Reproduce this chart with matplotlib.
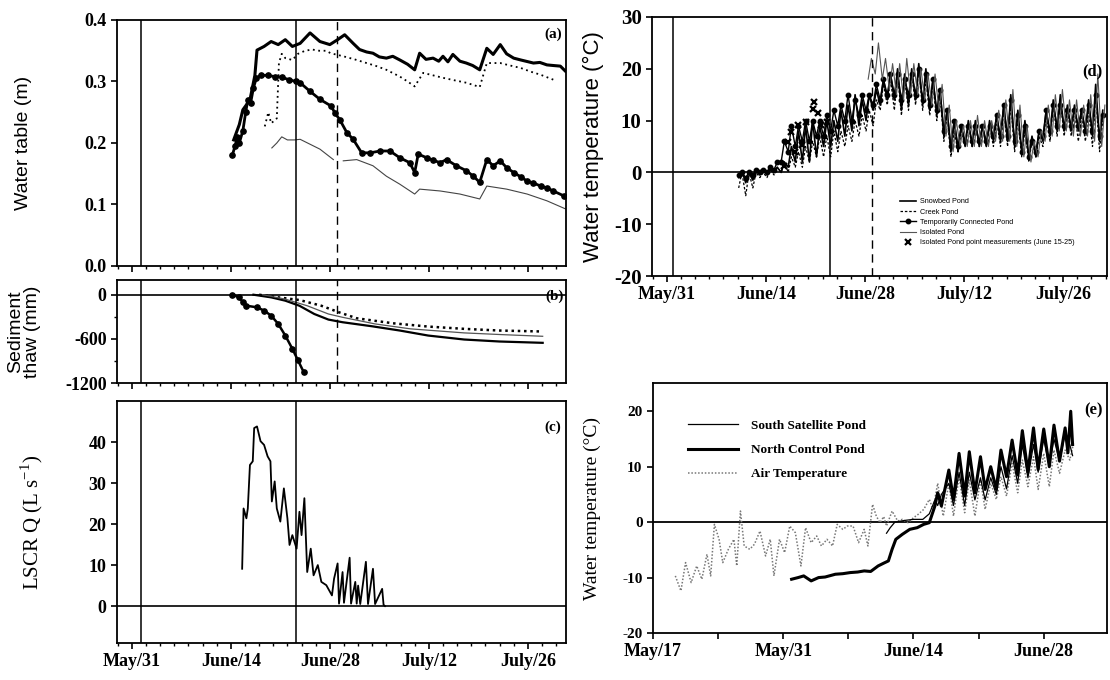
import numpy as np
import matplotlib
matplotlib.use('Agg')
import matplotlib.pyplot as plt
from matplotlib.ticker import MultipleLocator, FixedLocator

plt.rcParams['axes.unicode_minus'] = False

# ---------------- data (x = days after May 31) ----------------
# Panel (a) water table (m)
snow_a_days = [14.4, 15.2, 15.7, 16.7, 17.4, 17.7, 18.7, 19.7, 20.7, 21.7, 22.7, 23.8, 25.2, 26.6, 28.0,
               29.1, 30.1, 31.3, 32.2, 33.2, 34.1, 35.0, 36.0, 36.9, 37.9, 39.0, 40.0, 40.7, 41.6, 42.6,
               43.4, 44.0, 44.7, 45.4, 46.4, 47.3, 48.2, 49.2, 50.2, 51.1, 52.1, 53.0, 54.0, 55.0, 56.8,
               57.7, 58.7, 59.6, 60.6, 61.3]
snow_a_vals = [0.205, 0.23, 0.254, 0.27, 0.31, 0.351, 0.357, 0.365, 0.36, 0.368, 0.357, 0.362, 0.379, 0.365, 0.36,
               0.368, 0.376, 0.362, 0.352, 0.348, 0.346, 0.34, 0.338, 0.341, 0.335, 0.328, 0.319, 0.346, 0.336, 0.338,
               0.333, 0.341, 0.332, 0.344, 0.333, 0.33, 0.326, 0.319, 0.354, 0.344, 0.36, 0.345, 0.338, 0.335, 0.33,
               0.331, 0.327, 0.326, 0.325, 0.317]
creek_a_days = [18.8, 19.3, 19.7, 20.5, 20.8, 21.2, 21.7, 22.7, 23.5, 24.5, 25.5, 26.5, 27.5, 28.1, 29.9,
                31.5, 33.2, 34.6, 36.0, 37.9, 39.0, 40.0, 41.2, 42.6, 44.0, 45.6, 47.3, 49.2, 50.2, 52.1,
                53.5, 55.0, 56.4, 57.8, 59.6]
creek_a_vals = [0.227, 0.25, 0.232, 0.24, 0.33, 0.345, 0.338, 0.335, 0.345, 0.35, 0.352, 0.35, 0.35, 0.346, 0.341,
                0.336, 0.33, 0.325, 0.319, 0.308, 0.3, 0.292, 0.314, 0.31, 0.306, 0.302, 0.298, 0.291, 0.33, 0.33,
                0.326, 0.322, 0.316, 0.311, 0.303]
tc_a_days = [14.2, 14.6, 14.9, 15.2, 15.7, 16.1, 16.4, 16.8, 17.2, 17.6, 18.2, 19.2, 20.2, 21.2, 22.2,
             23.2, 23.8, 25.2, 26.6, 28.2, 28.7, 29.4, 30.4, 31.3, 32.5, 33.7, 35.1, 36.5, 37.9, 39.3,
             40.0, 40.5, 41.7, 42.6, 43.6, 44.5, 45.9, 47.3, 48.3, 49.2, 50.2, 51.1, 52.1, 53.0, 54.0,
             55.0, 55.9, 56.8, 57.8, 58.7, 59.6, 61.1]
tc_a_vals = [0.18, 0.195, 0.21, 0.2, 0.22, 0.25, 0.27, 0.265, 0.29, 0.305, 0.31, 0.31, 0.308, 0.307, 0.303,
             0.3, 0.298, 0.284, 0.271, 0.26, 0.249, 0.238, 0.217, 0.206, 0.184, 0.184, 0.187, 0.187, 0.176, 0.168,
             0.152, 0.182, 0.176, 0.172, 0.168, 0.173, 0.163, 0.155, 0.146, 0.136, 0.173, 0.163, 0.171, 0.16, 0.152,
             0.145, 0.138, 0.135, 0.13, 0.127, 0.122, 0.114]
iso_a_days = [19.8, 20.5, 21.2, 22.0, 23.0, 23.8, 25.2, 26.6, 28.5, 28.9, 29.9, 31.8, 34.1, 36.0, 37.9,
              40.0, 40.7, 43.6, 46.4, 49.2, 50.2, 53.0, 55.9, 58.7, 61.5]
iso_a_vals = [0.192, 0.2, 0.21, 0.205, 0.205, 0.206, 0.198, 0.19, 0.173, np.nan, 0.171, 0.173, 0.163, 0.146, 0.133,
              0.117, 0.125, 0.122, 0.117, 0.109, 0.13, 0.125, 0.117, 0.106, 0.092]

# Panel (b) sediment thaw (mm)
tc_b_days = [14.2, 15.2, 15.7, 16.2, 17.7, 18.7, 19.7, 20.7, 21.7, 22.7, 23.5, 24.3]
tc_b_vals = [0, -36, -104, -150, -171, -216, -284, -397, -555, -735, -893, -1051]
snow_b_days = [17.2, 19.7, 21.7, 23.7, 25.8, 27.8, 29.8, 33.9, 37.9, 41.9, 47.0, 52.0, 58.1]
snow_b_vals = [0, -36, -81, -150, -262, -338, -374, -428, -487, -555, -609, -636, -654]
creek_b_days = [18.0, 20.7, 23.7, 26.8, 29.3, 31.8, 36.9, 41.9, 47.0, 52.0, 58.1]
creek_b_vals = [0, -36, -72, -150, -239, -320, -388, -433, -464, -487, -500]
iso_b_days = [18.5, 21.7, 24.8, 27.8, 29.8, 34.4, 39.4, 47.0, 52.0, 58.1]
iso_b_vals = [0, -60, -150, -262, -307, -397, -464, -519, -541, -565]

# Panel (c) LSCR discharge (L/s)
q_days = [15.6, 15.7, 15.8, 16.2, 16.4, 16.7, 17.1, 17.3, 17.7, 18.2, 18.7, 19.2, 19.6, 19.8, 20.2, 20.5,
          21.0, 21.5, 22.0, 22.3, 22.7, 23.3, 23.7, 24.0, 24.4, 24.8, 25.3, 25.7, 26.3, 26.8, 27.5, 28.3,
          28.6, 29.1, 29.3, 29.8, 30.0, 30.8, 31.0, 31.6, 31.8, 32.0, 32.3, 33.1, 33.4, 34.1, 34.4, 35.4,
          35.6, 35.8]
q_vals = [9.1, 16.5, 23.8, 21.4, 23.8, 34.4, 35.3, 43.4, 43.8, 40.2, 39.3, 36.5, 35.3, 25.5, 30.4, 23.8,
          20.6, 28.7, 21.4, 14.9, 17.3, 14.0, 23.0, 17.3, 26.3, 8.3, 14.0, 7.5, 10.0, 5.9, 5.1, 2.6,
          6.7, 10.4, 0.6, 8.3, 0.8, 11.8, 0.6, 5.9, 0.6, 5.0, 0.5, 10.8, 0.5, 9.1, 0.5, 4.2,
          0.3, 0.0]

# Panel (d) water temperature: daily minima / maxima, first day given
snow_d_start = 10
snow_d_min = [-1, -2, -1.5, -0.5, -0.5, 0, 0, 1, 2, 2, 2, 3, 5, 5, 6, 7, 8, 9, 10, 12, 13, 14, 14, 12, 13, 14,
              13, 12, 11, 7, 4, 4, 5, 5, 5, 5, 6, 6, 6, 5, 4, 3, 3, 6, 7, 8, 8, 8, 8, 8, 7, 6]
snow_d_max = [0.3, 0, 0.3, 0.5, 0.5, 1, 2, 5, 8, 9, 10, 9, 10, 10, 12, 13, 15, 14, 15, 16, 18, 19, 20, 19, 20, 21,
              20, 18, 16, 12, 10, 9, 10, 10, 9, 10, 11, 13, 15, 12, 10, 7, 8, 12, 14, 15, 13, 13, 12, 14, 17, 12]
creek_d_start = 10
creek_d_min = [-3, -4.5, -3, -1, -1, -0.5, 0, 0, 1, 1, 2, 3, 3, 3, 4, 5, 6, 7, 8, 9, 12, 13, 12, 11, 12, 13,
               12, 11, 10, 6, 3, 4, 5, 5, 5, 5, 5, 5, 5, 4, 3, 2, 3, 5, 6, 7, 7, 7, 6, 6, 5, 4]
creek_d_max = [0, 0, 0, 0, 0.5, 1, 2, 3, 4, 5, 6, 7, 7, 8, 8, 9, 10, 11, 12, 14, 17, 18, 19, 18, 19, 20,
               18, 17, 15, 11, 8, 8, 9, 9, 9, 9, 10, 12, 13, 10, 8, 6, 7, 11, 13, 14, 12, 12, 11, 12, 15, 10]
tc_d_start = 10
tc_d_min = [-0.5, -1, -0.5, 0, 0, 0.5, 2, 4, 5, 6, 6, 7, 7, 8, 9, 10, 10, 11, 12, 13, 14, 15, 15, 14, 15, 15,
            14, 13, 12, 8, 5, 5, 6, 6, 6, 6, 7, 7, 7, 6, 4, 3, 4, 7, 8, 9, 9, 9, 9, 8, 8, 7]
tc_d_max = [0, 0, 0.5, 0.5, 1, 2, 6, 9, 9, 10, 10, 10, 11, 12, 13, 15, 14, 15, 15, 17, 18, 19, 19, 18, 19, 20,
            19, 18, 16, 12, 10, 9, 9, 9, 9, 9, 11, 13, 14, 11, 9, 6, 8, 12, 13, 13, 12, 12, 12, 13, 15, 11]
iso_d_start = 28.3
iso_d_min = [18, 19, 18, 16, 15, 14, 15, 15, 14, 13, 12, 7, 4, 5, 5, 5, 5, 5, 6, 6, 6, 5, 3, 2, 3, 6, 7, 8,
             8, 7, 7, 7, 6, 5]
iso_d_max = [22, 25, 22, 21, 21, 22, 21, 20, 19, 19, 17, 13, 10, 9, 10, 11, 10, 10, 12, 14, 16, 13, 9, 6, 8,
             13, 15, 16, 14, 14, 13, 15, 19, 13]
pts_days = [16.6, 17.1, 17.6, 18.1, 18.6, 19.1, 19.6, 20.6, 20.8, 21.3, 21.8, 22.6]
pts_vals = [1.3, 5.8, 7.8, 3.9, 9.1, 5.2, 9.7, 12.3, 13.6, 11.4, 9.1, 9.7]

# Panel (e)
air_days = [-11.6, -11.0, -10.5, -9.9, -9.3, -8.75, -8.2, -7.8, -7.4, -6.9, -6.5, -5.9, -5.3, -5.0, -4.6, -4.2,
            -3.6, -3.1, -2.5, -1.9, -1.4, -1.0, -0.4, 0.15, 0.7, 1.3, 1.9, 2.4, 3.0, 3.6, 4.1, 4.7, 5.3, 5.8,
            6.4, 6.9, 7.5, 8.1, 8.7, 9.1, 9.6, 10.0, 10.4, 10.8, 11.1, 11.7, 12.3, 12.8, 13.4, 14.0, 14.5,
            15.1, 15.7, 16.1, 16.6, 17.2, 17.8, 18.3, 18.9, 19.5, 20.0, 20.6, 21.2, 21.7, 22.3, 22.9, 23.4,
            24.0, 24.6, 25.2, 25.7, 26.3, 26.9, 27.4, 28.0, 28.6, 29.1, 29.7, 30.3, 30.8, 31.2]
air_vals = [-9.7, -12.4, -7.3, -10.9, -7.9, -10.3, -5.8, -9.7, -0.4, -3.1, -7.3, -4.9, -3.1, -7.9, 2.0, -4.3,
            -4.9, -4.0, -1.6, -6.1, -3.1, -9.7, -3.1, -5.5, -0.7, -1.9, -7.9, -1.0, -3.7, -2.5, -4.3, -3.1, -4.3,
            -0.4, -1.3, -0.7, -0.7, -3.7, -1.3, -4.3, 3.2, 1.1, -0.1, 1.0, -0.7, 2.0, 0.2, 0.5, -0.1, 0.8, 1.4,
            2.3, 4.1, 2.3, 7.0, 1.1, 7.0, 1.1, 8.2, 1.7, 7.6, 1.1, 7.6, 2.3, 7.0, 4.1, 8.2, 4.7, 10.6, 5.3,
            11.2, 6.4, 11.8, 5.9, 12.4, 6.4, 13.0, 8.8, 13.0, 11.2, 14.2]
nc_days = [0.9, 1.6, 2.2, 3.0, 3.8, 4.5, 5.6, 6.4, 7.2, 8.0, 8.7, 9.4, 10.2, 10.8, 11.3, 11.7, 12.1, 12.8,
           13.6, 14.4, 15.1, 15.7, 16.3, 16.6, 17.0, 17.8, 18.3, 18.9, 19.5, 20.0, 20.6, 21.2, 21.7, 22.3,
           22.9, 23.4, 24.0, 24.6, 25.2, 25.7, 26.3, 26.9, 27.4, 28.0, 28.6, 29.1, 29.7, 30.3, 30.6, 30.9, 31.1]
nc_vals = [-10.3, -10.0, -9.7, -10.6, -10.0, -9.9, -9.4, -9.3, -9.1, -9.0, -8.8, -8.9, -7.9, -7.4, -7.0, -4.9,
           -3.1, -2.2, -1.3, -1.0, -0.4, -0.1, 2.9, 5.3, 2.9, 9.4, 4.1, 12.4, 4.7, 12.7, 5.3, 11.8, 5.9, 10.0,
           5.9, 13.0, 8.2, 14.8, 8.5, 16.5, 9.0, 17.0, 9.5, 16.8, 10.0, 17.5, 11.0, 17.0, 12.5, 20.0, 14.0]
ss_days = [11.1, 11.5, 12.0, 13.0, 14.0, 15.0, 15.7, 16.3, 16.6, 17.0, 17.8, 18.3, 18.9, 19.5, 20.0, 20.6,
           21.2, 21.7, 22.3, 22.9, 23.4, 24.0, 24.6, 25.2, 25.7, 26.3, 26.9, 27.4, 28.0, 28.6, 29.1, 29.7,
           30.3, 30.8, 31.1]
ss_vals = [-2.0, -1.0, 0.0, 0.3, 0.5, 0.5, 1.5, 4.0, 3.0, 5.0, 7.0, 3.0, 9.0, 3.0, 9.0, 4.0, 8.0, 4.0, 8.0,
           5.0, 10.0, 6.0, 12.0, 7.0, 14.0, 8.0, 14.0, 9.0, 15.0, 10.0, 15.0, 11.0, 16.0, 14.0, 12.0]

date_ticks = [0, 14, 28, 42, 56]
date_labels = ['May/31', 'June/14', 'June/28', 'July/12', 'July/26']
e_ticks = [-14, -7, 0, 7, 14, 21, 28, 35]
e_labels = ['May/17', '', 'May/31', '', 'June/14', '', 'June/28', '']


def zig(start, mins, maxs):
    xs, ys = [], []
    for i, (lo, hi) in enumerate(zip(mins, maxs)):
        xs += [start + i + 0.15, start + i + 0.6]
        ys += [lo, hi]
    return xs, ys


# ---------------- figure ----------------
SERIF = 'Liberation Serif'
SANS = 'Liberation Sans'
fig = plt.figure(figsize=(11.1, 6.8), dpi=100)

ax_a = fig.add_axes([117/1110, 1-266/680, 449/1110, 246/680])
ax_b = fig.add_axes([117/1110, 1-383/680, 449/1110, 103/680])
ax_c = fig.add_axes([117/1110, 1-643/680, 449/1110, 242/680])
ax_d = fig.add_axes([652/1110, 1-276/680, 455/1110, 259/680])
ax_e = fig.add_axes([653/1110, 1-633/680, 454/1110, 250/680])


def style(ax, ysize=13):
    for s in ax.spines.values():
        s.set_linewidth(1.3)
    ax.tick_params(which='major', direction='out', length=4, width=1.2)
    ax.tick_params(which='minor', direction='out', length=2.5, width=1.0)
    for lab in ax.get_yticklabels():
        lab.set_fontfamily(SERIF)
        lab.set_fontweight('bold')
        lab.set_fontsize(ysize)
    for lab in ax.get_xticklabels():
        lab.set_fontfamily(SERIF)
        lab.set_fontweight('bold')
        lab.set_fontsize(13)


def date_axis(ax, xlo, xhi, labels=True):
    ax.set_xlim(xlo, xhi)
    ax.xaxis.set_major_locator(FixedLocator(date_ticks))
    ax.xaxis.set_minor_locator(MultipleLocator(2))
    if labels:
        ax.set_xticklabels(date_labels)
    else:
        ax.set_xticklabels([])


vline_kw = dict(color='black', lw=1.1)
dash_kw = dict(color='black', lw=1.0, ls=(0, (6, 4)))

# (a)
ax = ax_a
ax.plot(snow_a_days, snow_a_vals, color='black', lw=2.2)
ax.plot(creek_a_days, creek_a_vals, color='black', lw=1.3, ls=(0, (1, 2)))
ax.plot(tc_a_days, tc_a_vals, color='black', lw=2.0, marker='o', ms=3.8)
ax.plot(iso_a_days, iso_a_vals, color='#444444', lw=0.8)
ax.axvline(1.27, **vline_kw)
ax.axvline(23.2, **vline_kw)
ax.axvline(29.0, **dash_kw)
ax.set_ylim(0, 0.4)
ax.set_yticks([0.0, 0.1, 0.2, 0.3, 0.4])
ax.set_yticklabels(['0.0', '0.1', '0.2', '0.3', '0.4'])
date_axis(ax, -2.1, 61.4, labels=False)
ax.set_ylabel('Water table (m)', fontfamily=SANS, fontsize=14)
ax.yaxis.set_label_coords(-0.19, 0.5)
ax.text(0.99, 0.97, '(a)', transform=ax.transAxes, ha='right', va='top',
        fontfamily=SERIF, fontweight='bold', fontsize=11)
style(ax)

# (b)
ax = ax_b
ax.axhline(0, color='black', lw=1.2)
ax.plot(snow_b_days, snow_b_vals, color='black', lw=1.6)
ax.plot(creek_b_days, creek_b_vals, color='black', lw=1.8, ls=(0, (1, 1.5)))
ax.plot(iso_b_days, iso_b_vals, color='#555555', lw=0.9)
ax.plot(tc_b_days, tc_b_vals, color='black', lw=1.8, marker='o', ms=3.8)
ax.axvline(1.27, **vline_kw)
ax.axvline(23.2, **vline_kw)
ax.axvline(29.0, **dash_kw)
ax.set_ylim(-1200, 200)
ax.set_yticks([-1200, -600, 0])
ax.set_yticklabels(['-1200', '-600', '0'])
ax.yaxis.set_minor_locator(FixedLocator([-900, -300]))
date_axis(ax, -2.1, 61.4, labels=False)
ax.set_ylabel('Sediment\nthaw (mm)', fontfamily=SANS, fontsize=14, linespacing=1.0)
ax.yaxis.set_label_coords(-0.17, 0.5)
ax.text(0.995, 0.84, '(b)', transform=ax.transAxes, ha='right', va='center',
        fontfamily=SERIF, fontweight='bold', fontsize=11)
style(ax)

# (c)
ax = ax_c
ax.axhline(0, color='black', lw=1.2)
ax.plot(q_days, q_vals, color='black', lw=1.3)
ax.axvline(1.27, **vline_kw)
ax.axvline(23.2, **vline_kw)
ax.set_ylim(-9, 50)
ax.set_yticks([0, 10, 20, 30, 40])
date_axis(ax, -2.1, 61.4, labels=True)
ax.set_ylabel('LSCR Q (L s$^{\\mathregular{-1}}$)', fontfamily=SERIF, fontsize=15)
ax.yaxis.set_label_coords(-0.16, 0.5)
ax.text(0.99, 0.89, '(c)', transform=ax.transAxes, ha='right', va='center',
        fontfamily=SERIF, fontweight='bold', fontsize=11)
style(ax)

# (d)
ax = ax_d
ax.axhline(0, color='black', lw=1.2)
x, y = zig(creek_d_start, creek_d_min, creek_d_max)
l_creek, = ax.plot(x, y, color='black', lw=0.9, ls=(0, (2, 1.5)), label='Creek Pond')
x, y = zig(snow_d_start, snow_d_min, snow_d_max)
l_snow, = ax.plot(x, y, color='black', lw=1.2, label='Snowbed Pond')
x, y = zig(tc_d_start, tc_d_min, tc_d_max)
l_tc, = ax.plot(x, y, color='black', lw=1.0, marker='o', ms=3.2, label='Temporarily Connected Pond')
x, y = zig(iso_d_start, iso_d_min, iso_d_max)
l_iso, = ax.plot(x, y, color='#555555', lw=0.8, label='Isolated Pond')
l_pts, = ax.plot(pts_days, pts_vals, ls='none', marker='x', color='black', ms=5, mew=1.6,
                 label='Isolated Pond point measurements (June 15-25)')
ax.axvline(0.85, **vline_kw)
ax.axvline(23.05, **vline_kw)
ax.axvline(29.0, **dash_kw)
ax.set_ylim(-20, 30)
ax.set_yticks([-20, -10, 0, 10, 20, 30])
date_axis(ax, -2.1, 62.2, labels=True)
ax.set_ylabel('Water temperature (°C)', fontfamily=SANS, fontsize=16)
ax.yaxis.set_label_coords(-0.105, 0.5)
ax.text(0.99, 0.79, '(d)', transform=ax.transAxes, ha='right', va='center',
        fontfamily=SERIF, fontweight='bold', fontsize=12)
leg = ax.legend(handles=[l_snow, l_creek, l_tc, l_iso, l_pts], loc='upper left',
                bbox_to_anchor=(0.535, 0.32), frameon=False,
                prop={'family': SANS, 'size': 5.2}, handlelength=2.2,
                handletextpad=0.5, labelspacing=0.45, borderpad=0.2)
style(ax, ysize=15)

# (e)
ax = ax_e
ax.axhline(0, color='black', lw=1.3)
l_air, = ax.plot(air_days, air_vals, color='#777777', lw=1.1, ls=(0, (1, 1.2)), label='Air Temperature')
l_nc, = ax.plot(nc_days, nc_vals, color='black', lw=2.2, label='North Control Pond')
l_ss, = ax.plot(ss_days, ss_vals, color='black', lw=0.9, label='South Satellite Pond')
ax.set_xlim(-14, 34.8)
ax.xaxis.set_major_locator(FixedLocator(e_ticks))
ax.set_xticklabels(e_labels)
ax.set_ylim(-20, 25.1)
ax.set_yticks([-20, -10, 0, 10, 20])
ax.set_ylabel('Water temperature (°C)', fontfamily=SERIF, fontsize=14)
ax.yaxis.set_label_coords(-0.115, 0.5)
ax.text(0.99, 0.89, '(e)', transform=ax.transAxes, ha='right', va='center',
        fontfamily=SERIF, fontweight='bold', fontsize=12)
leg = ax.legend(handles=[l_ss, l_nc, l_air], loc='upper left', bbox_to_anchor=(0.05, 0.9),
                frameon=False, prop={'family': SERIF, 'weight': 'bold', 'size': 9.5},
                handlelength=3.8, handletextpad=1.0, labelspacing=0.9)
style(ax, ysize=11)

fig.savefig('out.png', dpi=100)
